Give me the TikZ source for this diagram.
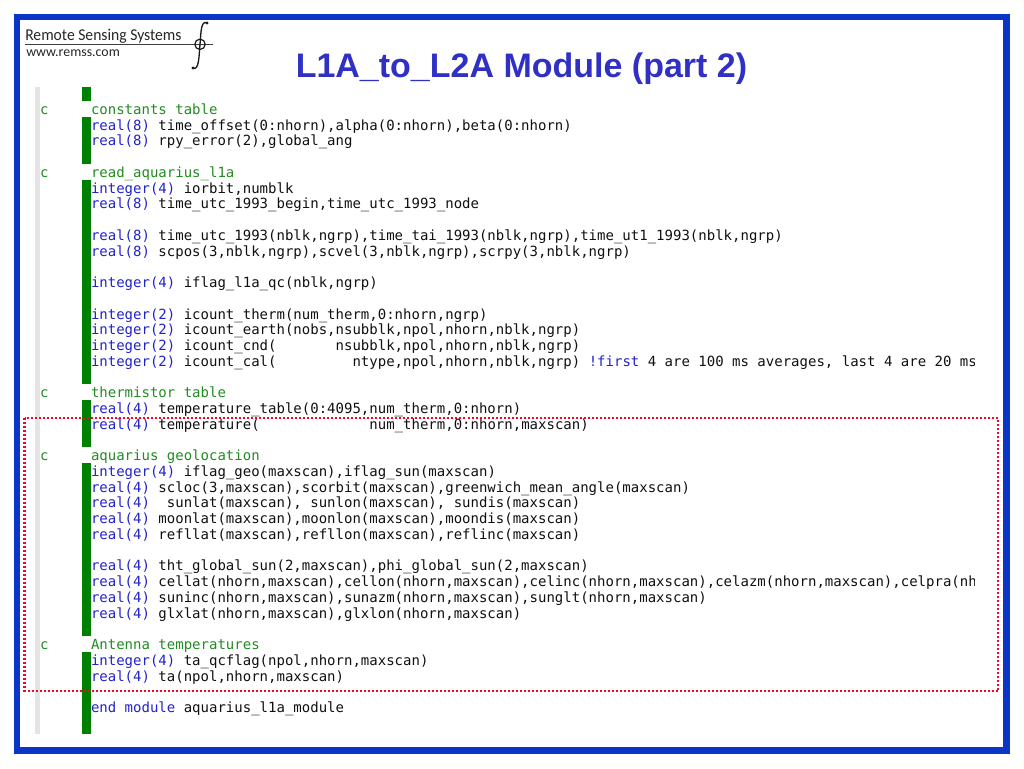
\documentclass[tikz,border=0pt]{standalone}
\usepackage{fontspec}
\setmainfont{Liberation Sans}
\setmonofont{DejaVu Sans Mono}
\newfontfamily\logofont{Carlito}

\definecolor{framecol}{HTML}{0A35C8}
\definecolor{titlecol}{HTML}{3030C4}
\definecolor{keycol}{HTML}{2222CC}
\definecolor{notecol}{HTML}{228B22}
\definecolor{barcol}{HTML}{008000}
\definecolor{railcol}{HTML}{E4E4E4}
\definecolor{boxcol}{HTML}{FF0020}
\definecolor{inkcol}{HTML}{101010}

\tikzset{
    code/.style={anchor=base west, inner sep=0pt, outer sep=0pt, text=inkcol,
        font=\fontsize{10.51}{12}\selectfont\ttfamily},
    note/.style={code, text=notecol},
    logo/.style={anchor=base west, inner sep=0pt, text=black!85}
}

\newcommand{\kw}[1]{\textcolor{keycol}{#1}}
\newcommand{\ycode}[1]{114.4+#1*15.74}

\begin{document}
\begin{tikzpicture}[x=0.75pt, y=-0.75pt]
    \useasboundingbox (0, 0) rectangle (1024, 768);

    \def\xc{40};
    \def\xt{91};

    % frame
    \draw[framecol, line width=4.9pt] (17, 17) rectangle (1006.5, 750.5);

    % logo
    \node[logo, font=\logofont\fontsize{12.4}{14}\selectfont, xscale=0.945] (company) at (25, 40) {Remote Sensing Systems};
    \node[logo, font=\logofont\fontsize{10.4}{12}\selectfont] (website) at (26, 56) {www.remss.com};
    \coordinate (rulel) at (25, 44.3);
    \coordinate (ruler) at (213, 44.3);
    \draw[black!75, line width=0.7pt] (rulel) -- (ruler);
    \draw[black!90, line width=0.9pt] (200, 44.3) circle (5.2);
    \draw[black!90, line width=1pt] (207, 23) .. controls (201, 20) and (201, 32) .. (200, 44.3)
        .. controls (199, 56) and (199, 71) .. (193, 68);
    \fill[black!90] (207, 23) circle (1.6);
    \fill[black!90] (193, 68) circle (1.6);

    % title
    \node[font=\bfseries\fontsize{25.5}{29}\selectfont, text=titlecol, inner sep=0pt] (title) at (521.5, 69) {L1A\_to\_L2A Module (part 2)};

    % rails
    \fill[railcol] (35, 87) rectangle (40, 734);
    \foreach \ya/\yb in {87/101, 117/164, 180/384, 400/447, 463/636, 652/734}
        \fill[barcol] (82, \ya) rectangle (90.5, \yb);

    % code
    \begin{scope}
        \clip (30, 80) rectangle (974, 740);

        \foreach \n in {0, 4, 18, 22, 34}
            \node[note] (c\n) at (\xc, {\ycode{\n}}) {c};

        \node[note] (l0) at (\xt, {\ycode{0}}) {constants table};
        \node[code] (l1) at (\xt, {\ycode{1}}) {\kw{real(8)} time\_offset(0:nhorn),alpha(0:nhorn),beta(0:nhorn)};
        \node[code] (l2) at (\xt, {\ycode{2}}) {\kw{real(8)} rpy\_error(2),global\_ang};

        \node[note] (l4) at (\xt, {\ycode{4}}) {read\_aquarius\_l1a};
        \node[code] (l5) at (\xt, {\ycode{5}}) {\kw{integer(4)} iorbit,numblk};
        \node[code] (l6) at (\xt, {\ycode{6}}) {\kw{real(8)} time\_utc\_1993\_begin,time\_utc\_1993\_node};

        \node[code] (l8) at (\xt, {\ycode{8}}) {\kw{real(8)} time\_utc\_1993(nblk,ngrp),time\_tai\_1993(nblk,ngrp),time\_ut1\_1993(nblk,ngrp)};
        \node[code] (l9) at (\xt, {\ycode{9}}) {\kw{real(8)} scpos(3,nblk,ngrp),scvel(3,nblk,ngrp),scrpy(3,nblk,ngrp)};

        \node[code] (l11) at (\xt, {\ycode{11}}) {\kw{integer(4)} iflag\_l1a\_qc(nblk,ngrp)};

        \node[code] (l13) at (\xt, {\ycode{13}}) {\kw{integer(2)} icount\_therm(num\_therm,0:nhorn,ngrp)};
        \node[code] (l14) at (\xt, {\ycode{14}}) {\kw{integer(2)} icount\_earth(nobs,nsubblk,npol,nhorn,nblk,ngrp)};
        \node[code] (l15) at (\xt, {\ycode{15}}) {\kw{integer(2)} icount\_cnd(~~~~~~~nsubblk,npol,nhorn,nblk,ngrp)};
        \node[code] (l16) at (\xt, {\ycode{16}}) {\kw{integer(2)} icount\_cal(~~~~~~~~~ntype,npol,nhorn,nblk,ngrp) \kw{!first} 4 are 100 ms averages, last 4 are 20 ms};

        \node[note] (l18) at (\xt, {\ycode{18}}) {thermistor table};
        \node[code] (l19) at (\xt, {\ycode{19}}) {\kw{real(4)} temperature\_table(0:4095,num\_therm,0:nhorn)};
        \node[code] (l20) at (\xt, {\ycode{20}}) {\kw{real(4)} temperature(~~~~~~~~~~~~~num\_therm,0:nhorn,maxscan)};

        \node[note] (l22) at (\xt, {\ycode{22}}) {aquarius geolocation};
        \node[code] (l23) at (\xt, {\ycode{23}}) {\kw{integer(4)} iflag\_geo(maxscan),iflag\_sun(maxscan)};
        \node[code] (l24) at (\xt, {\ycode{24}}) {\kw{real(4)} scloc(3,maxscan),scorbit(maxscan),greenwich\_mean\_angle(maxscan)};
        \node[code] (l25) at (\xt, {\ycode{25}}) {\kw{real(4)}~~sunlat(maxscan),~sunlon(maxscan),~sundis(maxscan)};
        \node[code] (l26) at (\xt, {\ycode{26}}) {\kw{real(4)} moonlat(maxscan),moonlon(maxscan),moondis(maxscan)};
        \node[code] (l27) at (\xt, {\ycode{27}}) {\kw{real(4)} refllat(maxscan),refllon(maxscan),reflinc(maxscan)};

        \node[code] (l29) at (\xt, {\ycode{29}}) {\kw{real(4)} tht\_global\_sun(2,maxscan),phi\_global\_sun(2,maxscan)};
        \node[code] (l30) at (\xt, {\ycode{30}}) {\kw{real(4)} cellat(nhorn,maxscan),cellon(nhorn,maxscan),celinc(nhorn,maxscan),celazm(nhorn,maxscan),celpra(nh};
        \node[code] (l31) at (\xt, {\ycode{31}}) {\kw{real(4)} suninc(nhorn,maxscan),sunazm(nhorn,maxscan),sunglt(nhorn,maxscan)};
        \node[code] (l32) at (\xt, {\ycode{32}}) {\kw{real(4)} glxlat(nhorn,maxscan),glxlon(nhorn,maxscan)};

        \node[note] (l34) at (\xt, {\ycode{34}}) {Antenna temperatures};
        \node[code] (l35) at (\xt, {\ycode{35}}) {\kw{integer(4)} ta\_qcflag(npol,nhorn,maxscan)};
        \node[code] (l36) at (\xt, {\ycode{36}}) {\kw{real(4)} ta(npol,nhorn,maxscan)};

        \node[code] (l38) at (\xt, {\ycode{38}}) {\kw{end module} aquarius\_l1a\_module};
    \end{scope}

    % red box
    \draw[boxcol, line width=1.8pt, dash pattern=on 1.5pt off 1.5pt] (24.5, 418) rectangle (998, 691);
\end{tikzpicture}
\end{document}
